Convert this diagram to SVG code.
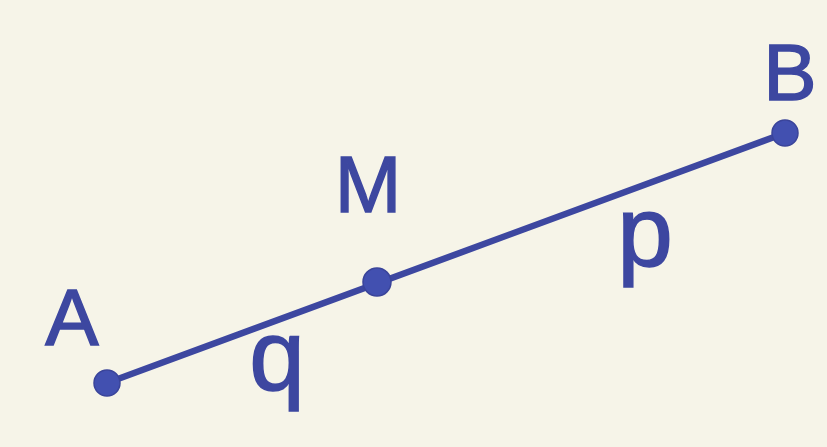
<svg xmlns="http://www.w3.org/2000/svg" width="827" height="447" viewBox="0 0 827 447">
<style>
.lbl{font-family:"Liberation Sans","DejaVu Sans",sans-serif;font-size:80px;fill:#3d47a0;stroke:#3d47a0;stroke-width:1.5;text-anchor:middle}
.sm{font-size:100px}
.pt{fill:#4250b0;stroke:#3a449a;stroke-width:1.5}
.seg{stroke:#3d47a0;stroke-width:6.5;stroke-linecap:round;fill:none}
</style>
<rect width="827" height="447" fill="#f6f4e8"/>
<g id="connectors">
<line class="seg" x1="107" y1="383" x2="785" y2="133"/>
</g>
<g id="A"><circle class="pt" cx="107" cy="383" r="13"/><text class="lbl" x="72" y="345">A</text></g>
<g id="M"><circle class="pt" cx="377" cy="282" r="14"/><text class="lbl" x="368" y="212">M</text></g>
<g id="B"><circle class="pt" cx="785" cy="133" r="13"/><text class="lbl" x="790" y="100">B</text></g>
<g id="q"><text class="lbl sm" x="277" y="390">q</text></g>
<g id="p"><text class="lbl sm" x="645" y="266">p</text></g>
</svg>
